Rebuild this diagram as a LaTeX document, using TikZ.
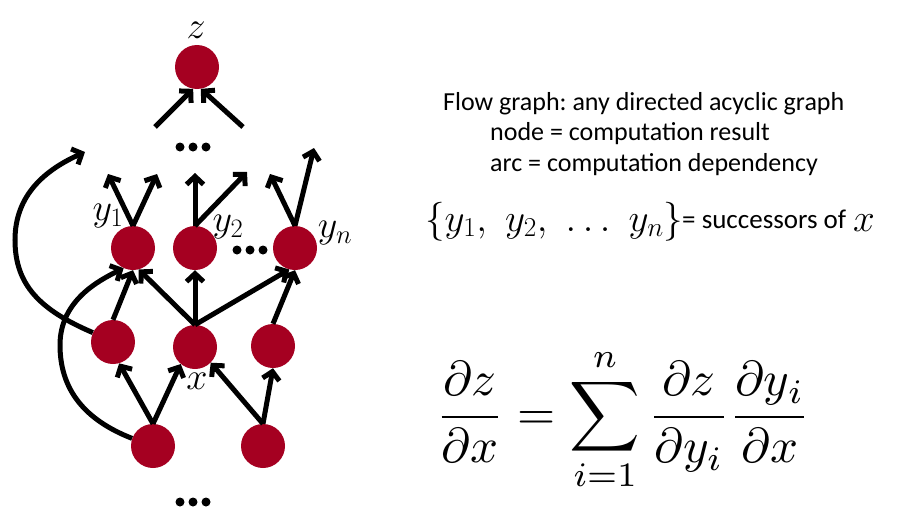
\RequirePackage{fix-cm}
\documentclass[tikz,border=0pt]{standalone}
\usepackage{amsmath}
\usepackage{graphicx}
\usepackage{fontspec}
\newfontfamily\calib{Carlito}
\usetikzlibrary{arrows.meta}
\definecolor{nodered}{HTML}{A50021}
\frenchspacing
\begin{document}
\begin{tikzpicture}[x=1pt,y=-1pt,
  vert/.style={circle, fill=nodered, minimum size=44pt, inner sep=0pt},
  edge/.style={line width=5pt, -{Straight Barb[length=8pt,width=17pt]}},
  lbl/.style={font=\fontsize{38}{44}\selectfont, inner sep=0pt},
  txt/.style={font=\calib\fontsize{26}{30}\selectfont, anchor=base west, inner sep=0pt},
  mth/.style={font=\fontsize{39}{45}\selectfont, anchor=base west, inner sep=0pt},
  dotn/.style={circle, fill=black, minimum size=9pt, inner sep=0pt}
]
\useasboundingbox (0,0) rectangle (897,522);

% vertices
\node[vert] (z) at (197,67) {};
\node[vert] (y1) at (133,248) {};
\node[vert] (y2) at (195,248) {};
\node[vert] (yn) at (295,248) {};
\node[vert] (m1) at (113,342) {};
\node[vert] (x) at (195,347) {};
\node[vert] (m3) at (273,346) {};
\node[vert] (b1) at (153,446) {};
\node[vert] (b2) at (263,446) {};

% ellipsis dots
\foreach \i/\dx in {1/-13,2/0,3/13}{
  \node[dotn] (td\i) at (193+\dx,147) {};
  \node[dotn] (md\i) at (250+\dx,250) {};
  \node[dotn] (bd\i) at (193+\dx,502) {};
}

% free ends
\coordinate (zl) at (155,127);
\coordinate (zr) at (243,127);
\coordinate (a1) at (108,174);
\coordinate (a2) at (157,174);
\coordinate (a3) at (195,173);
\coordinate (a4) at (247,172);
\coordinate (a5) at (270,174);
\coordinate (a6) at (314,148);
\coordinate (cu) at (85,152);

% edges
\draw[edge] (zl) -- (z.-100);
\draw[edge] (zr) -- (z.-80);
\draw[edge] (y1.north) -- (a1);
\draw[edge] (y1.north) -- (a2);
\draw[edge] (y2.north) -- (a3);
\draw[edge] (y2.north) -- (a4);
\draw[edge] (yn.north) -- (a5);
\draw[edge] (yn.north) -- (a6);
\draw[edge] (m1.north) -- (y1.south);
\draw[edge] (x.north) -- (y1.-75);
\draw[edge] (x.north) -- (y2.south);
\draw[edge] (x.north) -- (yn.-105);
\draw[edge] (m3.north) -- (yn.south);
\draw[edge] (b1.north) -- (m1.-74);
\draw[edge] (b1.north) -- (x.-130);
\draw[edge] (b2.north) -- (x.-45);
\draw[edge] (b2.north) -- (m3.south);
\draw[edge] (m1.155) .. controls (40,310) and (15,285) .. (15,240)
  .. controls (15,195) and (45,170) .. (cu);
\draw[edge] (b1.160) .. controls (85,420) and (60,390) .. (60,345)
  .. controls (60,300) and (100,280) .. (y1.-115);

% labels
\node[lbl] (lz) at (196,30) {$z$};
\node[lbl] (ly1) at (108,216) {$y_1$};
\node[lbl] (ly2) at (228,227) {$y_2$};
\node[lbl] (lyn) at (335,233) {$y_n$};
\node[lbl] (lx) at (197,381) {$x$};

% text
\node[txt] (t1) at (443,110) {Flow graph: any directed acyclic graph};
\node[txt] (t2) at (490,140) {node = computation result};
\node[txt] (t3) at (490,171) {arc = computation dependency};
\node[mth] (set) at (425,231) {$\{y_1,\ y_2,\ \ldots\ y_n\}$};
\node[txt, font=\calib\fontsize{27}{31}\selectfont] (succ) at (682,228) {= successors of};
\node[mth] (sx) at (853,231) {$x$};

\node[inner sep=0pt] (eq) at (623,420)
  {\scalebox{4.9}{$\displaystyle \frac{\partial z}{\partial x}=\sum_{i=1}^{n}\frac{\partial z}{\partial y_i}\frac{\partial y_i}{\partial x}$}};
\end{tikzpicture}
\end{document}
